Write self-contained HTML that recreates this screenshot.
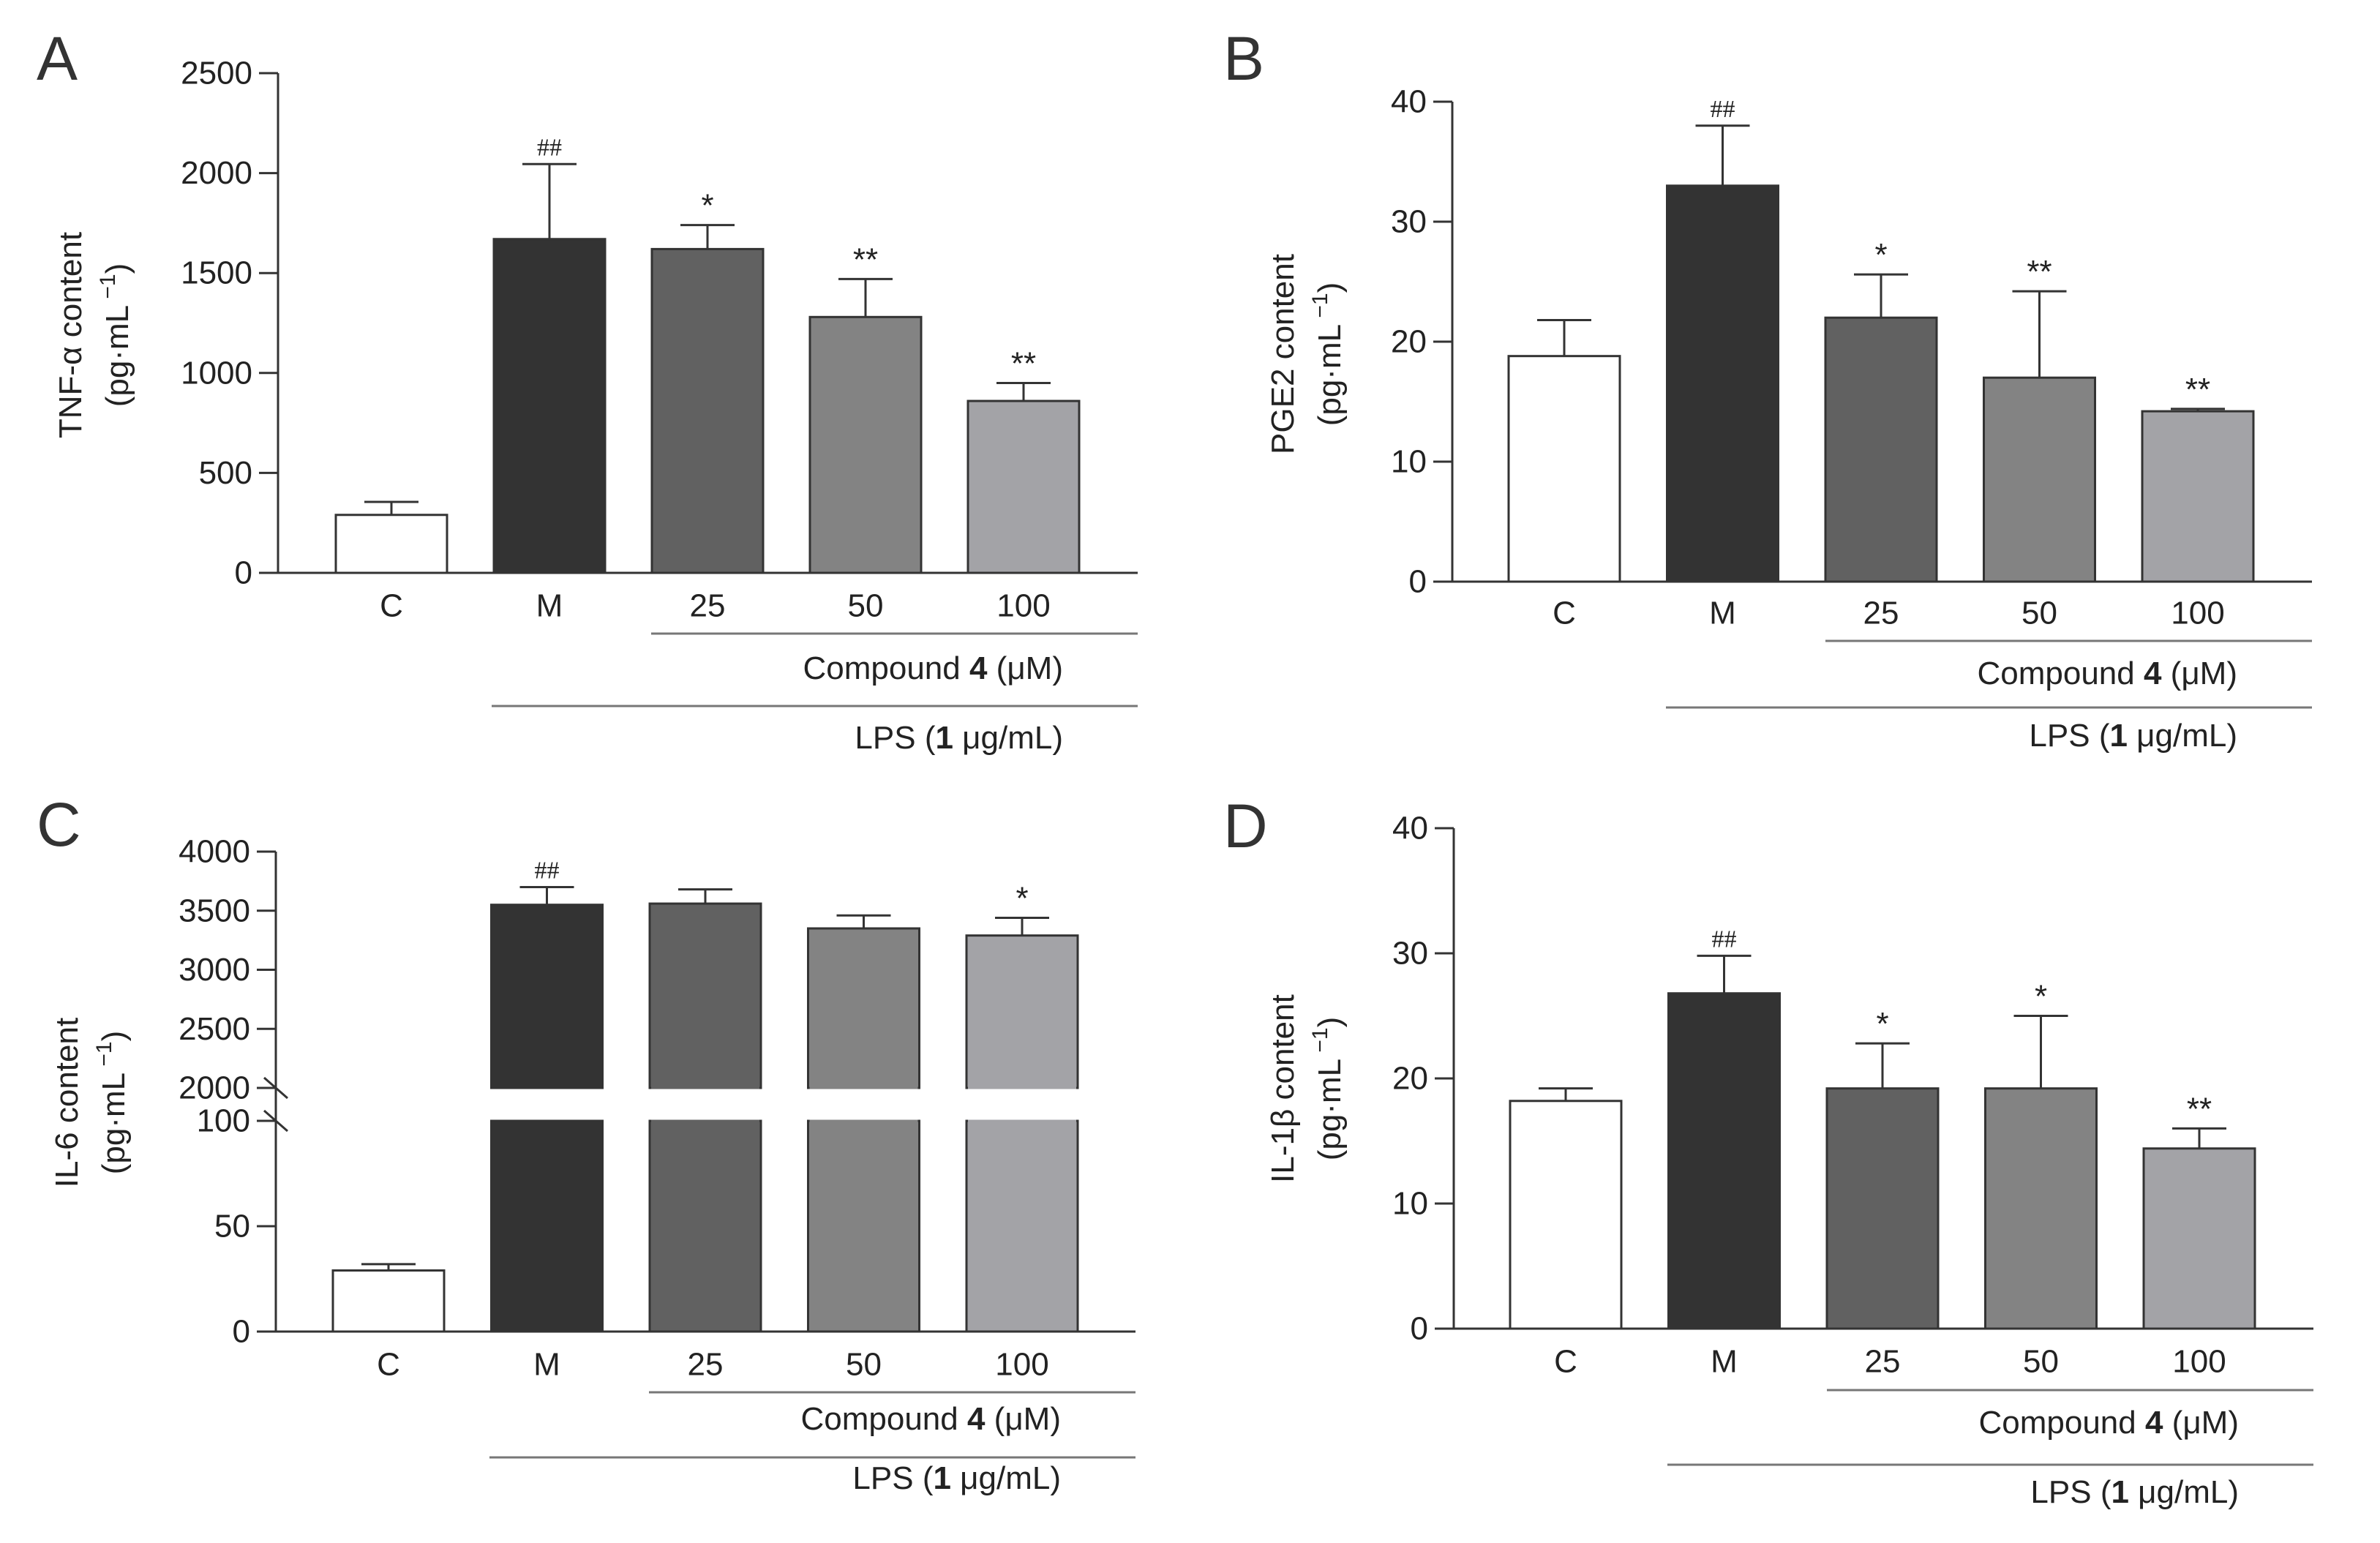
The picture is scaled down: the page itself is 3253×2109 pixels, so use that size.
<!DOCTYPE html>
<html><head><meta charset="utf-8"><style>
html,body{margin:0;padding:0;background:#fff;}
svg{display:block;font-family:"Liberation Sans",Arial,sans-serif;}
</style></head><body>
<svg id="fig" width="3253" height="2109" viewBox="0 0 3253 2109" xmlns="http://www.w3.org/2000/svg"></svg>
<script>
const categories = ["C","M","25","50","100"];
const tnfValues = [290,1670,1620,1280,860];
const tnfErrors = [355,2045,1740,1470,950];
const tnfMarks = ["","##","*","**","**"];
const tnfTicks = [0,500,1000,1500,2000,2500];
const pgeValues = [18.8,33,22,17,14.2];
const pgeErrors = [21.8,38,25.6,24.2,14.4];
const pgeMarks = ["","##","*","**","**"];
const pgeTicks = [0,10,20,30,40];
const il6Values = [29,3550,3560,3350,3290];
const il6Errors = [32,3700,3680,3460,3440];
const il6Marks = ["","##","","","*"];
const il6TicksLow = [0,50,100];
const il6TicksHigh = [2000,2500,3000,3500,4000];
const il1Values = [18.2,26.8,19.2,19.2,14.4];
const il1Errors = [19.2,29.8,22.8,25,16];
const il1Marks = ["","##","*","*","**"];
const il1Ticks = [0,10,20,30,40];
const fills = ["#ffffff","#333333","#616161","#838383","#a3a3a7"];

const svg = document.getElementById('fig');
const NS = 'http://www.w3.org/2000/svg';
function mk(tag, attrs, parent){
  const e = document.createElementNS(NS, tag);
  for (const k in attrs) e.setAttribute(k, attrs[k]);
  (parent||svg).appendChild(e);
  return e;
}

function panel(cfg){
  const g = mk('g', {});
  
  
  const ax = cfg.axisX, y0 = cfg.y0, yS = cfg.yScale;
  const bandX = i => cfg.firstCenter + i * cfg.spacing;
  const bw = 152;
  // letter
  const L = mk('text', {x: cfg.letterX, y: cfg.letterY, 'font-size': 84, fill: '#333'}, g);
  L.textContent = cfg.letter;
  
  
  // y-axis title
  const t = mk('text', {transform: `translate(${cfg.titleX},${cfg.titleY}) rotate(-90)`, 'text-anchor': 'middle', 'font-size': 44, fill: '#222'}, g);
  
  
  const s1 = mk('tspan', {x: 0, dy: 0}, t); s1.textContent = cfg.title;
  const s2 = mk('tspan', {x: 0, dy: 64}, t); s2.textContent = '(pg·mL';
  const s3 = mk('tspan', {dy: -18, 'font-size': 30}, t); s3.textContent = ' −1';
  const s4 = mk('tspan', {dy: 18}, t); s4.textContent = ')';
  // bars
  for (let i = 0; i < categories.length; i++){
    const cx = bandX(i), v = cfg.values[i], e = cfg.errors[i];
    const yv = yS(v), ye = yS(e);
    // error bar
    const eb = mk('path', {d: `M${cx},${yv} V${ye} M${cx-37},${ye} H${cx+37}`, stroke: '#333', 'stroke-width': 3, fill: 'none'}, g);
    
    
    if (cfg.broken && v > 100){
      const r1 = mk('rect', {x: cx-bw/2, y: yv, width: bw, height: cfg.breakHigh - yv, fill: fills[i], stroke: '#333', 'stroke-width': 3}, g);
      
      
      const r2 = mk('rect', {x: cx-bw/2, y: cfg.breakLow, width: bw, height: y0 - cfg.breakLow, fill: fills[i], stroke: '#333', 'stroke-width': 3}, g);
      
      
      // cover stroke at break edges
      mk('rect', {x: cx-bw/2+2, y: cfg.breakHigh-1.5, width: bw-4, height: 3, fill: fills[i]}, g);
      mk('rect', {x: cx-bw/2+2, y: cfg.breakLow-1.5, width: bw-4, height: 3, fill: fills[i]}, g);
    } else {
      const r = mk('rect', {x: cx-bw/2, y: yv, width: bw, height: y0 - yv, fill: fills[i], stroke: '#333', 'stroke-width': 3}, g);
      
      
    }
    if (cfg.marks[i]){
      const m = mk('text', {x: cx, y: ye - 12, 'text-anchor': 'middle', 'font-size': cfg.marks[i] === '##' ? 34 : 44, fill: '#222', 'font-family': cfg.marks[i] === '##' ? '"Liberation Serif",serif' : '"Liberation Sans",sans-serif'}, g);
      m.textContent = cfg.marks[i];
      
      
    }
    const cl = mk('text', {x: cx, y: cfg.catY, 'text-anchor': 'middle', 'dominant-baseline': 'central', 'font-size': 44, fill: '#222'}, g);
    cl.textContent = categories[i];
    
    
  }
  // axes
  const yTop = cfg.axisTop;
  const yax = mk('line', {x1: ax, y1: yTop, x2: ax, y2: y0, stroke: '#333', 'stroke-width': 3}, g);
  
  
  const xax = mk('line', {x1: ax-26, y1: y0, x2: ax+1175, y2: y0, stroke: '#333', 'stroke-width': 3}, g);
  
  
  for (const tk of cfg.ticks){
    const ty = yS(tk);
    mk('line', {x1: ax-26, y1: ty, x2: ax, y2: ty, stroke: '#333', 'stroke-width': 3}, g);
    const tl = mk('text', {x: ax-35, y: ty, 'text-anchor': 'end', 'dominant-baseline': 'central', 'font-size': 44, fill: '#222'}, g);
    tl.textContent = tk;
    
    
  }
  if (cfg.broken){
    for (const by of [cfg.breakHigh, cfg.breakLow]){
      mk('line', {x1: ax-16, y1: by-14, x2: ax+16, y2: by+14, stroke: '#333', 'stroke-width': 3}, g);
    }
  }
  // group lines
  const cLine = mk('line', {x1: ax+510, y1: cfg.compLineY, x2: ax+1175, y2: cfg.compLineY, stroke: '#777', 'stroke-width': 3}, g);
  
  
  const ct = mk('text', {x: ax+1073, y: cfg.compTextY, 'text-anchor': 'end', 'dominant-baseline': 'central', 'font-size': 44, fill: '#222'}, g);
  
  
  const c1 = mk('tspan', {}, ct); c1.textContent = 'Compound ';
  const c2 = mk('tspan', {'font-weight': 'bold'}, ct); c2.textContent = '4';
  const c3 = mk('tspan', {}, ct); c3.textContent = ' (μM)';
  const lLine = mk('line', {x1: ax+292, y1: cfg.lpsLineY, x2: ax+1175, y2: cfg.lpsLineY, stroke: '#777', 'stroke-width': 3}, g);
  
  
  const lt = mk('text', {x: ax+1073, y: cfg.lpsTextY, 'text-anchor': 'end', 'dominant-baseline': 'central', 'font-size': 44, fill: '#222'}, g);
  
  
  const l1 = mk('tspan', {}, lt); l1.textContent = 'LPS (';
  const l2 = mk('tspan', {'font-weight': 'bold'}, lt); l2.textContent = '1';
  const l3 = mk('tspan', {}, lt); l3.textContent = ' μg/mL)';
}

// Panel A
panel({letter:'A', letterX:50, letterY:109, title:'TNF-α content', titleX:111, titleY:458,
  axisX:380, y0:783, axisTop:100, yScale: v => 783 - v*(683/2500),
  firstCenter:535, spacing:216, values:tnfValues, errors:tnfErrors, marks:tnfMarks, ticks:tnfTicks,
  catY:828, compLineY:866, compTextY:913, lpsLineY:965, lpsTextY:1008});
// Panel B
panel({letter:'B', letterX:1672, letterY:109, title:'PGE2 content', titleX:1768, titleY:484,
  axisX:1985, y0:795, axisTop:139, yScale: v => 795 - v*(656/40),
  firstCenter:2138, spacing:216.5, values:pgeValues, errors:pgeErrors, marks:pgeMarks, ticks:pgeTicks,
  catY:838, compLineY:876, compTextY:920, lpsLineY:967, lpsTextY:1005});
// Panel C (broken axis)
panel({letter:'C', letterX:50, letterY:1156, title:'IL-6 content', titleX:106, titleY:1507,
  axisX:377, y0:1820, axisTop:1164, broken:true, breakHigh:1487, breakLow:1532,
  yScale: v => v <= 100 ? 1820 - v*2.88 : 1487 - (v-2000)*((1487-1164)/2000),
  firstCenter:531, spacing:216.5, values:il6Values, errors:il6Errors, marks:il6Marks, ticks:il6TicksLow.concat(il6TicksHigh),
  catY:1865, compLineY:1903, compTextY:1939, lpsLineY:1992, lpsTextY:2020});
// Panel D
panel({letter:'D', letterX:1672, letterY:1158, title:'IL-1β content', titleX:1768, titleY:1488,
  axisX:1987, y0:1816, axisTop:1132, yScale: v => 1816 - v*(684/40),
  firstCenter:2140, spacing:216.5, values:il1Values, errors:il1Errors, marks:il1Marks, ticks:il1Ticks,
  catY:1861, compLineY:1900, compTextY:1944, lpsLineY:2002, lpsTextY:2039});
</script>
</body></html>
